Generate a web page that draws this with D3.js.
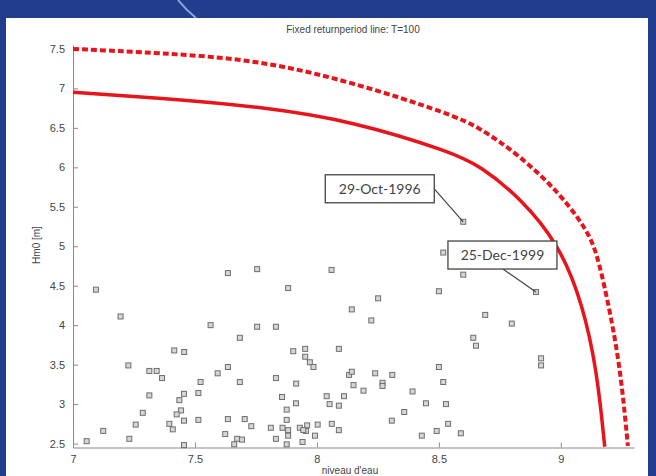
<!DOCTYPE html>
<meta charset="utf-8">
<style>
body { margin: 0; background: #233d8e; }
.axis path, .axis line { stroke: #8a8a8a; }
.axis text { fill: #444; font: 11px "Liberation Sans", Arial, sans-serif; }
.title, .label { fill: #444; font: 10px "Liberation Sans", Arial, sans-serif; }
.note text { fill: #444; font: 14px Lato, "Open Sans", sans-serif; }
</style>
<svg width="656" height="476"></svg>
<script src="https://d3js.org/d3.v7.min.js"></script>
<script>
// storm events: water level (m) and Hm0 (m)
var waterLevel = [7.094, 7.195, 7.056, 7.124, 7.227, 7.231, 7.257, 7.286, 7.313, 7.313,
  7.343, 7.365, 7.415, 7.456, 7.436, 7.455, 7.443, 7.425, 7.455, 7.395,
  7.409, 7.455, 7.514, 7.514, 7.523, 7.564, 7.593, 7.635, 7.635, 7.635,
  7.624, 7.661, 7.673, 7.693, 7.684, 7.684, 7.704, 7.731, 7.755, 7.755,
  7.832, 7.882, 8.060, 8.251, 8.143, 8.223, 7.903, 7.952, 7.952, 7.971,
  7.986, 8.090, 7.832, 7.915, 8.132, 8.143, 8.239, 8.269, 8.269, 8.309,
  8.392, 8.150, 8.191, 7.857, 7.914, 7.876, 8.040, 8.052, 8.090, 8.111,
  8.358, 8.307, 7.876, 7.811, 7.859, 7.882, 7.882, 7.930, 7.960, 7.955,
  7.944, 8.003, 8.061, 8.090, 7.992, 7.832, 7.876, 7.941, 8.518, 8.600,
  8.500, 8.898, 8.690, 8.799, 8.641, 8.652, 8.919, 8.919, 8.500, 8.518,
  8.447, 8.529, 8.538, 8.491, 8.430, 8.590, 8.600];
var waveHeight = [4.45, 4.11, 2.53, 2.66, 3.49, 2.56, 2.74, 2.89, 3.11, 3.42,
  3.42, 3.33, 3.68, 3.66, 3.05, 3.13, 2.92, 2.87, 2.79, 2.75,
  2.68, 2.48, 3.14, 2.80, 3.28, 4.00, 3.39, 4.66, 3.47, 2.81,
  2.62, 2.49, 2.56, 2.55, 3.84, 3.28, 2.81, 2.72, 4.71, 3.98,
  3.98, 4.47, 4.70, 4.34, 4.20, 4.06, 3.67, 3.70, 3.60, 3.53,
  3.47, 3.70, 3.33, 3.26, 3.37, 3.41, 3.39, 3.27, 3.23, 3.37,
  3.16, 3.24, 3.17, 3.09, 3.01, 2.93, 3.10, 3.00, 2.98, 3.10,
  2.90, 2.79, 2.80, 2.70, 2.70, 2.67, 2.60, 2.70, 2.73, 2.66,
  2.67, 2.74, 2.75, 2.67, 2.60, 2.56, 2.49, 2.52, 4.92, 4.64,
  4.43, 4.42, 4.13, 4.02, 3.84, 3.74, 3.58, 3.49, 3.47, 3.28,
  3.01, 3.00, 2.75, 2.66, 2.60, 2.63, 5.31];

// return period lines
var solidX = [7.0, 7.357, 7.766, 8.156, 8.553, 8.668, 8.832, 8.996, 9.090, 9.148, 9.180];
var solidY = [6.95, 6.88, 6.77, 6.58, 6.19, 6.02, 5.62, 5.01, 4.26, 3.43, 2.46];
var dashX = [7.0, 7.357, 7.766, 8.156, 8.553, 8.668, 8.832, 8.996, 9.107, 9.148, 9.189, 9.242, 9.275];
var dashY = [7.5, 7.45, 7.36, 7.07, 6.67, 6.50, 6.15, 5.67, 5.21, 4.91, 4.36, 3.52, 2.47];

var xTicks = [7, 7.5, 8, 8.5, 9];
var yTicks = [2.5, 3, 3.5, 4, 4.5, 5, 5.5, 6, 6.5, 7, 7.5];

var noteLabels = ["29-Oct-1996", "25-Dec-1999"];
var noteX = [8.600, 8.898];
var noteY = [5.31, 4.42];

var svg = d3.select("svg");

// blue slide frame with white figure
svg.append("rect").attr("width", 656).attr("height", 476).attr("fill", "#233d8e");
svg.append("path")
    .attr("d", "M178,0 Q186,10 196,18")
    .attr("fill", "none").attr("stroke", "#8fa6d8").attr("stroke-width", 2);
svg.append("rect").attr("x", 6).attr("y", 18).attr("width", 642).attr("height", 460).attr("fill", "#fff");

var x = d3.scaleLinear().domain([7, 9.3]).range([73, 634]);
var y = d3.scaleLinear().domain([2.45, 7.55]).range([447.5, 45]);

svg.append("g")
    .attr("class", "axis")
    .attr("transform", "translate(0,447.5)")
    .call(d3.axisBottom(x).tickValues(xTicks).tickFormat(d3.format("")).tickSizeInner(-5).tickSizeOuter(0).tickPadding(8));

svg.append("g")
    .attr("class", "axis")
    .attr("transform", "translate(73,0)")
    .call(d3.axisLeft(y).tickValues(yTicks).tickFormat(d3.format("")).tickSizeInner(-5).tickSizeOuter(0).tickPadding(8));

svg.append("text").attr("class", "title")
    .attr("x", 353).attr("y", 33).attr("text-anchor", "middle")
    .text("Fixed returnperiod line: T=100");
svg.append("text").attr("class", "label")
    .attr("x", 350).attr("y", 474).attr("text-anchor", "middle")
    .text("niveau d'eau");
svg.append("text").attr("class", "label")
    .attr("transform", "translate(40,245) rotate(-90)").attr("text-anchor", "middle")
    .text("Hm0 [m]");

var line = d3.line().curve(d3.curveBasis);

svg.append("path")
    .datum(dashX.map(function(d, i) { return [x(d), y(dashY[i])]; }))
    .attr("d", line)
    .attr("fill", "none").attr("stroke", "#e8141c").attr("stroke-width", 4)
    .attr("stroke-dasharray", "6,3");

svg.append("path")
    .datum(solidX.map(function(d, i) { return [x(d), y(solidY[i])]; }))
    .attr("d", line)
    .attr("fill", "none").attr("stroke", "#e8141c").attr("stroke-width", 3.5);

svg.selectAll(".pt")
    .data(waterLevel)
    .enter().append("rect")
      .attr("class", "pt")
      .attr("x", function(d) { return x(d) - 2.5; })
      .attr("y", function(d, i) { return y(waveHeight[i]) - 2.5; })
      .attr("width", 5).attr("height", 5)
      .attr("fill", "#d6d6d6").attr("stroke", "#6e6e6e").attr("stroke-width", 1);

// annotations
var boxW = 109, boxH = 28;
var boxOff = [[-138, -47], [-88, -51]];
var notes = svg.selectAll(".note")
    .data(noteLabels)
    .enter().append("g")
      .attr("class", "note");
notes.append("line")
    .attr("x1", function(d, i) { return x(noteX[i]); })
    .attr("y1", function(d, i) { return y(noteY[i]); })
    .attr("x2", function(d, i) { return i == 0 ? x(noteX[i]) + boxOff[i][0] + boxW : x(noteX[i]) - 33; })
    .attr("y2", function(d, i) { return i == 0 ? y(noteY[i]) + boxOff[i][1] + boxH / 2 : y(noteY[i]) + boxOff[i][1] + boxH; })
    .attr("stroke", "#444").attr("stroke-width", 1.2);
notes.append("rect")
    .attr("x", function(d, i) { return x(noteX[i]) + boxOff[i][0]; })
    .attr("y", function(d, i) { return y(noteY[i]) + boxOff[i][1]; })
    .attr("width", boxW).attr("height", boxH)
    .attr("fill", "#fff").attr("stroke", "#444").attr("stroke-width", 1.3);
notes.append("text")
    .attr("x", function(d, i) { return x(noteX[i]) + boxOff[i][0] + boxW / 2; })
    .attr("y", function(d, i) { return y(noteY[i]) + boxOff[i][1] + 19; })
    .attr("text-anchor", "middle")
    .text(function(d) { return d; });
</script>
